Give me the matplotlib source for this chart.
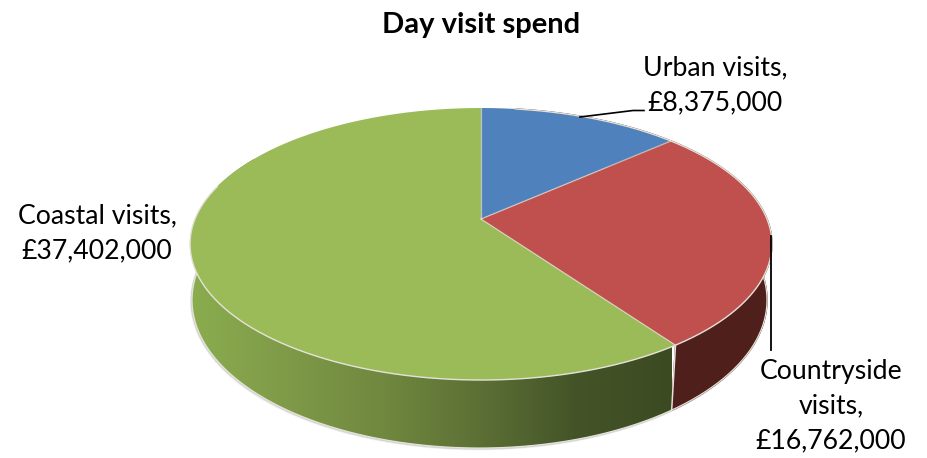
import numpy as np
import matplotlib
matplotlib.use('Agg')
import matplotlib.pyplot as plt
from matplotlib.colors import LinearSegmentedColormap
from matplotlib.patches import Polygon

plt.rcParams['font.family'] = ['Lato', 'DejaVu Sans']

categories = ['Urban visits', 'Countryside visits', 'Coastal visits']
spend = [8375000, 16762000, 37402000]
title = 'Day visit spend'

top_colors = ['#4f81bd', '#c0504d', '#9bbb59']
green_side = ['#8aad4e', '#7f9a48', '#70883f', '#5c7035', '#445428', '#3c4a22']
red_side = '#4f1f1b'
edge = '#e4e2d8'

# pie top and bottom, pixel units (center x, apex y, radius x, radius y)
top_pie = (481, 219, 286, 131.4)
bottom_pie = (479.5, 272.8, 282.6, 143)
k = 0.184


def project(pie, ang):
    # angle clockwise from 12 o'clock, with a bit of perspective
    xc, yc, rx, ry = pie
    x = np.sin(np.radians(ang))
    y = np.cos(np.radians(ang))
    w = 1 + k * y
    return xc + rx * x / w, yc - ry * y / w


def wall(a1, a2):
    ang = np.linspace(a1, a2, 200)
    x1, y1 = project(top_pie, ang)
    x2, y2 = project(bottom_pie, ang)
    return np.r_[x1, x2[::-1]], np.r_[y1, y2[::-1]]


fig = plt.figure(figsize=(9.28, 4.58), dpi=100)
ax = fig.add_axes([0, 0, 1, 1])

total = sum(spend)
cuts = np.r_[0, np.cumsum(spend)] / total * 360

# soft shadow under the pie
for grow, alpha in [(3, 0.08), (2, 0.12), (1, 0.2)]:
    ang = np.linspace(cuts[1] - 40, 300, 300)
    xb, yb = project(bottom_pie, ang)
    ax.plot(xb - grow * 0.4, yb + grow * 0.5, color='#777777', lw=1.2, alpha=alpha)

# side walls
xs, ys = wall(cuts[2], 300)
grad = LinearSegmentedColormap.from_list('side', green_side)
img = ax.imshow(np.linspace(0, 1, 256)[None, :], cmap=grad, aspect='auto',
                extent=(190, 672, 460, 100), zorder=2)
img.set_clip_path(Polygon(np.c_[xs, ys], transform=ax.transData))
xs, ys = wall(cuts[1] - 40, cuts[2])
ax.fill(xs, ys, color=red_side, zorder=2)

# light rim on the walls
ang = np.linspace(cuts[1] - 40, 285, 300)
xb, yb = project(bottom_pie, ang)
ax.plot(xb, yb, color=edge, lw=0.9, zorder=3)
x1, y1 = project(top_pie, cuts[2])
x2, y2 = project(bottom_pie, cuts[2])
ax.plot([x1, x2], [y1, y2], color=edge, lw=1.1, zorder=3)

# top face, the rim only shows on the radii and the front
for i in range(len(spend)):
    ang = np.linspace(cuts[i], cuts[i + 1], 200)
    x, y = project(top_pie, ang)
    ax.fill(np.r_[top_pie[0], x], np.r_[top_pie[1], y], facecolor=top_colors[i],
            edgecolor='none', zorder=4)
for a in cuts[:3]:
    x, y = project(top_pie, a)
    ax.plot([top_pie[0], x], [top_pie[1], y], color=edge, lw=0.9, alpha=0.7, zorder=5)
x, y = project(top_pie, np.linspace(cuts[1] - 40, 285, 300))
ax.plot(x, y, color=edge, lw=1.0, zorder=5)

# leader lines
ax.plot([580, 633, 644], [117, 110.5, 110.5], color='black', lw=1.2, zorder=6)
ax.plot([771, 771], [236, 350], color='black', lw=1.3, zorder=6)

# labels
lab = [f'£{v:,}' for v in spend]
ax.text(715, 85, f'{categories[0]},\n{lab[0]}', ha='center', va='center',
        fontsize=19.2, linespacing=1.5, color='black')
ax.text(831, 406, 'Countryside\nvisits,\n' + lab[1], ha='center', va='center',
        fontsize=19.2, linespacing=1.5, color='black')
ax.text(97, 233, f'{categories[2]},\n{lab[2]}', ha='center', va='center',
        fontsize=19.2, linespacing=1.5, color='black')
ax.text(481, 25, title, ha='center', va='center', fontsize=21, fontweight='bold',
        color='black')

ax.set_xlim(0, 928)
ax.set_ylim(458, 0)
ax.axis('off')

fig.savefig('out.png', dpi=100)
